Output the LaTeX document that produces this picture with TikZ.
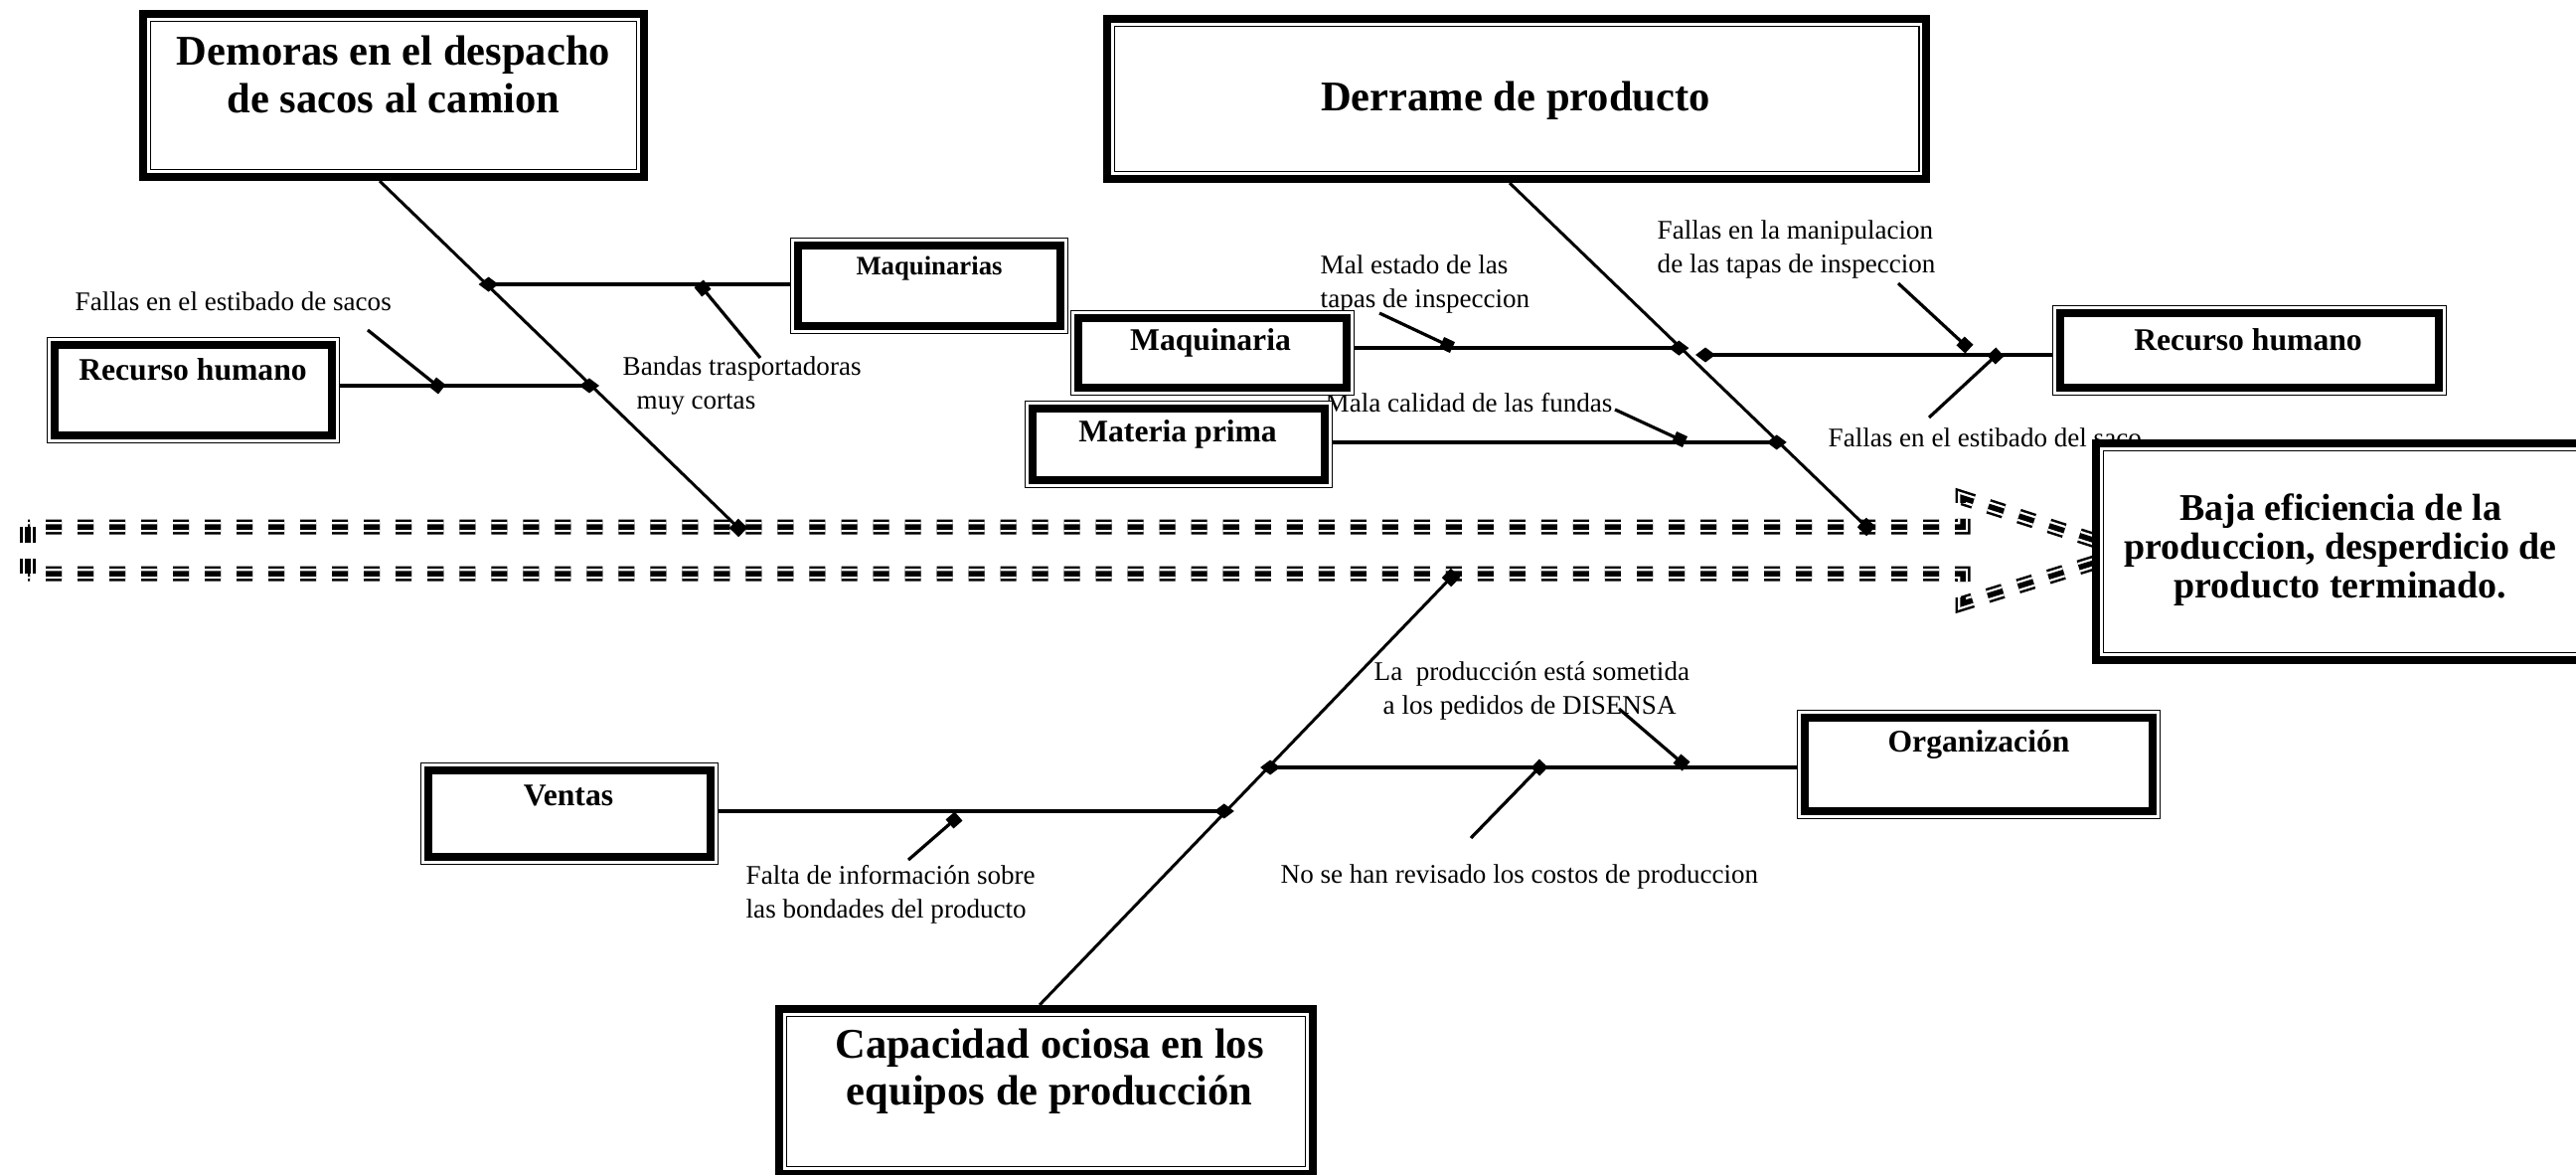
\documentclass[tikz,border=0pt]{standalone}
\usepackage{fontspec}
\setmainfont{Liberation Serif}
\usetikzlibrary{arrows.meta,calc}
\pgfdeclarelayer{bg}
\pgfsetlayers{bg,main}
\begin{document}
\begin{tikzpicture}[x=0.01cm,y=-0.01cm,
  tobox/.style={draw, line width=0.08cm, fill=white, inner sep=0pt},
  otbox/.style={draw, line width=0.015cm, fill=white, inner sep=0pt},
  ttl/.style={font=\bfseries\fontsize{12.1pt}{13.5pt}\selectfont, align=center, inner sep=0pt},
  bttl/.style={font=\bfseries\fontsize{10.8pt}{11.1pt}\selectfont, align=center, inner sep=0pt},
  blbl/.style={font=\bfseries\fontsize{9pt}{11pt}\selectfont, inner sep=0pt},
  lbl/.style={font=\fontsize{7.7pt}{9.7pt}\selectfont, align=left, anchor=west, inner sep=0pt},
  fbranch/.style={line width=0.035cm},
  fdiag/.style={line width=0.03cm},
  fsub/.style={line width=0.032cm, -{Square[length=0.12cm,width=0.12cm]}, shorten >=-0.06cm},
  fdia/.style={-{Diamond[length=0.2cm,width=0.15cm]}, shorten >=-0.08cm},
  fsq/.style={-{Square[length=0.13cm,width=0.13cm]}, shorten >=-0.065cm},
]
\useasboundingbox (0,0) rectangle (2592,1181);

% ---------- sub-cause labels ----------
\node[lbl] (l1) at (75,303) {Fallas en el estibado de sacos};
\node[lbl] (l2) at (626,388) {Bandas trasportadoras\\\hspace*{0.14cm}muy cortas};
\node[lbl] (l3) at (1328,286) {Mal estado de las\\tapas de inspeccion};
\node[lbl] (l4) at (1667,251) {Fallas en la manipulacion\\de las tapas de inspeccion};
\node[lbl] (l5) at (1333,405) {Mala calidad de las fundas};
\node[lbl] (l6) at (1839,440) {Fallas en el estibado del saco};
\node[lbl] (l7) at (1382,695) {La\ \ producción está sometida\\\hspace*{0.09cm}a los pedidos de DISENSA};
\node[lbl] (l8) at (750,900) {Falta de información sobre\\las bondades del producto};
\node[lbl] (l9) at (1288,882) {No se han revisado los costos de produccion};

% ---------- effect boxes (thick outer, thin inner) ----------
\node[tobox, minimum width=5.04cm, minimum height=1.64cm] (dem) at (396,96) {};
\node[tobox, minimum width=8.24cm, minimum height=1.61cm] (der) at (1526,99.5) {};
\node[tobox, minimum width=5.16cm, minimum height=2.18cm] (baja) at (2367,555) {};
\node[tobox, minimum width=5.37cm, minimum height=1.66cm] (cap) at (1052.5,1098) {};

% ---------- category boxes (thin outer, thick inner) ----------
\node[otbox, minimum width=2.785cm, minimum height=0.955cm] (maqs) at (935,287.5) {};
\node[otbox, minimum width=2.935cm, minimum height=1.055cm] (rhl) at (194.5,392.5) {};
\node[otbox, minimum width=2.845cm, minimum height=0.845cm] (maq) at (1220,355) {};
\node[otbox, minimum width=3.085cm, minimum height=0.865cm] (mat) at (1186,447) {};
\node[otbox, minimum width=3.955cm, minimum height=0.895cm] (rhr) at (2263.5,352.5) {};
\node[otbox, minimum width=2.985cm, minimum height=1.015cm] (ven) at (573,818.5) {};
\node[otbox, minimum width=3.645cm, minimum height=1.085cm] (org) at (1991,769) {};

\foreach \n in {dem,der,baja,cap}
  \draw[line width=0.015cm] ([shift={(11.5,11.5)}]\n.north west) rectangle ([shift={(-11.5,-11.5)}]\n.south east);
\foreach \n in {maqs,rhl,maq,mat,rhr,ven,org}
  \draw[line width=0.08cm] ([shift={(8.5,8.5)}]\n.north west) rectangle ([shift={(-8.5,-8.5)}]\n.south east);

% ---------- box texts ----------
\node[ttl] (tdem) at (396,75) {Demoras en el despacho\\de sacos al camion};
\node[ttl] (tder) at (1525,101) {Derrame de producto};
\node[bttl] (tbaja) at (2355,553) {Baja eficiencia de la\\produccion, desperdicio de\\producto terminado.};
\node[ttl] (tcap) at (1056,1078) {Capacidad ociosa en los\\equipos de producción};
\node[blbl, font=\bfseries\fontsize{7.6pt}{9pt}\selectfont] (tmaqs) at (935,270) {Maquinarias};
\node[blbl] (trhl) at (194,372) {Recurso humano};
\node[blbl] (tmaq) at (1218,345) {Maquinaria};
\node[blbl] (tmat) at (1185,437) {Materia prima};
\node[blbl] (trhr) at (2262,342) {Recurso humano};
\node[blbl] (tven) at (572,800) {Ventas};
\node[blbl] (torg) at (1991,749) {Organización};

\begin{pgfonlayer}{bg}
% ---------- dashed triple-line block arrow (spine) ----------
\foreach \w/\c in {0.15cm/black,0.10cm/white,0.055cm/black}{
  \draw[line width=\w, draw=\c, dash pattern=on 0.16cm off 0.16cm, dash phase=0.14cm, line join=miter]
    (28,530) -- (1975,530) -- (1975,501) -- (2143,555)
    (28,577) -- (1975,577) -- (1975,607) -- (2143,555);
  \draw[line width=\w, draw=\c, dash pattern=on 0.16cm off 0.16cm] (28,530) -- (28,577);
}

% ---------- diagonals ----------
\coordinate (d1a) at ([xshift=-0.14cm]dem.south);
\coordinate (s1) at (743,531);
\coordinate (d2a) at ([xshift=-0.07cm]der.south);
\coordinate (s2) at (1878,530);
\coordinate (d3a) at ([xshift=-0.065cm]cap.north);
\coordinate (s3) at (1460,581);
\draw[fdiag, fsq] (d1a) -- (s1);
\draw[fdiag, fsq] (d2a) -- (s2);
\draw[fdiag, fsq] (d3a) -- (s3);

\coordinate (jmaqs) at ($(d1a)!0.298!(s1)$);
\coordinate (jrhl) at ($(d1a)!0.590!(s1)$);
\coordinate (jmaq) at ($(d2a)!0.480!(s2)$);
\coordinate (jmat) at ($(d2a)!0.754!(s2)$);
\coordinate (jrhr) at (1714,357);
\coordinate (jven) at ($(d3a)!0.4535!(s3)$);
\coordinate (jorg) at ($(d3a)!0.5558!(s3)$);

% ---------- branches ----------
\draw[fbranch, fdia] (maqs.west |- jmaqs) -- (jmaqs);
\draw[fbranch, fdia] (rhl.east |- jrhl) -- (jrhl);
\draw[fbranch, fdia] (maq.east |- jmaq) -- (jmaq);
\draw[fbranch, fdia] (mat.east |- jmat) -- (jmat);
\draw[fbranch, fdia] (rhr.west |- jrhr) -- (jrhr);
\draw[fbranch, fdia] (ven.east |- jven) -- (jven);
\draw[fbranch, fdia] (org.west |- jorg) -- (jorg);

% ---------- sub-cause lines ----------
\coordinate (ma1) at (765,360);  \coordinate (mb1) at (707,290);
\coordinate (ma2) at (370,332);  \coordinate (mb2) at (440,388);
\coordinate (ma3) at (1388,315); \coordinate (mb3) at (1456,347);
\coordinate (ma4) at (1625,412); \coordinate (mb4) at (1690,442);
\coordinate (ma5) at (1910,285); \coordinate (mb5) at (1977,347);
\coordinate (ma6) at (1941,420); \coordinate (mb6) at (2008,358);
\coordinate (ma7) at (914,865);  \coordinate (mb7) at (960,825);
\coordinate (ma8) at (1480,843); \coordinate (mb8) at (1549,772);
\coordinate (ma9) at (1629,713); \coordinate (mb9) at (1692,767);
\foreach \i in {1,...,9}
  \draw[fsub] (ma\i) -- (mb\i);
\end{pgfonlayer}
\end{tikzpicture}
\end{document}
